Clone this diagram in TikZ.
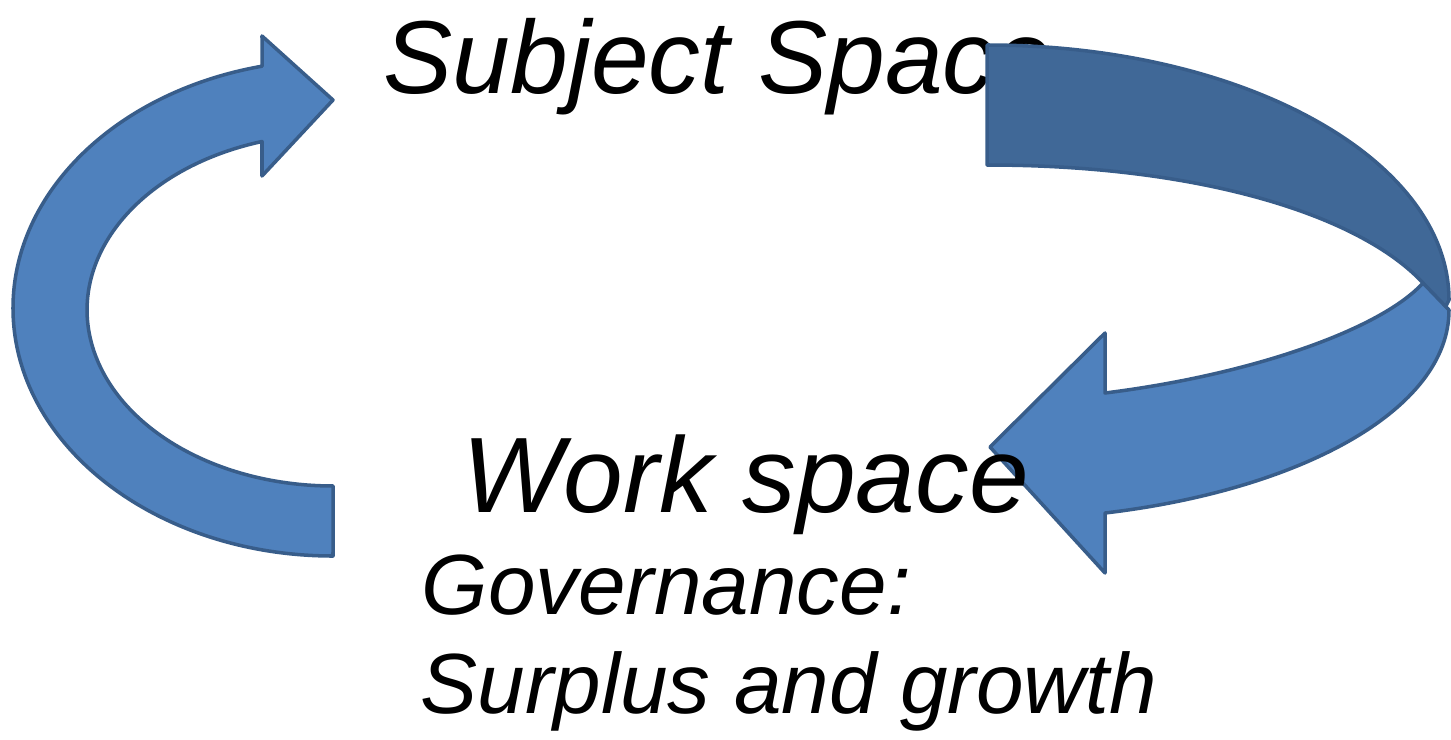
\documentclass[tikz,border=0pt]{standalone}
\usepackage{fontspec}
\setmainfont{Liberation Sans}
\usetikzlibrary{positioning}
\definecolor{cyclefill}{RGB}{79,129,189}
\definecolor{cycleback}{RGB}{64,104,151}
\definecolor{cycleline}{RGB}{56,93,138}
\tikzset{
  cyclearrow/.style={fill=cyclefill, draw=cycleline, line width=1pt, line join=round},
  cycleshade/.style={cyclearrow, fill=cycleback},
  spacelabel/.style={anchor=base west, inner sep=0pt, text=black,
                     font=\fontsize{29.5}{35}\selectfont\itshape},
  worklabel/.style={spacelabel, font=\fontsize{30.5}{36}\selectfont\itshape},
  govlabel/.style={spacelabel, font=\fontsize{24.3}{29}\selectfont\itshape},
}

\begin{document}
\begin{tikzpicture}[x=0.01cm, y=0.01cm, yscale=-1]
\useasboundingbox (0,0) rectangle (1451,739);
\node[spacelabel] (subject) at (383,93) {Subject Space};
% left arrow, up to the subject space
\draw[cyclearrow] (333,556) arc[start angle=90, end angle=257.2, x radius=320, y radius=248]
  -- (262,36) -- (333,100) -- (262,176) -- (262,141.5)
  arc[start angle=253.2, end angle=90, x radius=246, y radius=176] -- cycle;
% right arrow, back part and front part
\draw[cycleshade] (987,45) .. controls (1243,45) and (1449,159) .. (1449,300)
  -- (1440,318) -- (1423,283) .. controls (1360,215) and (1200,165) .. (987,165) -- cycle;
\draw[cyclearrow] (1423,283) .. controls (1380,330) and (1250,375) .. (1105,393)
  -- (1105,333) -- (990,447) -- (1105,573) -- (1105,513)
  .. controls (1300,490) and (1449,410) .. (1449,310) -- cycle;
\node[worklabel] (work) at (462,512) {Work space};
\node[govlabel] (gov) at (421,614) {Governance:};
\node[govlabel] (surplus) at (420,713) {Surplus and growth};
\end{tikzpicture}
\end{document}
